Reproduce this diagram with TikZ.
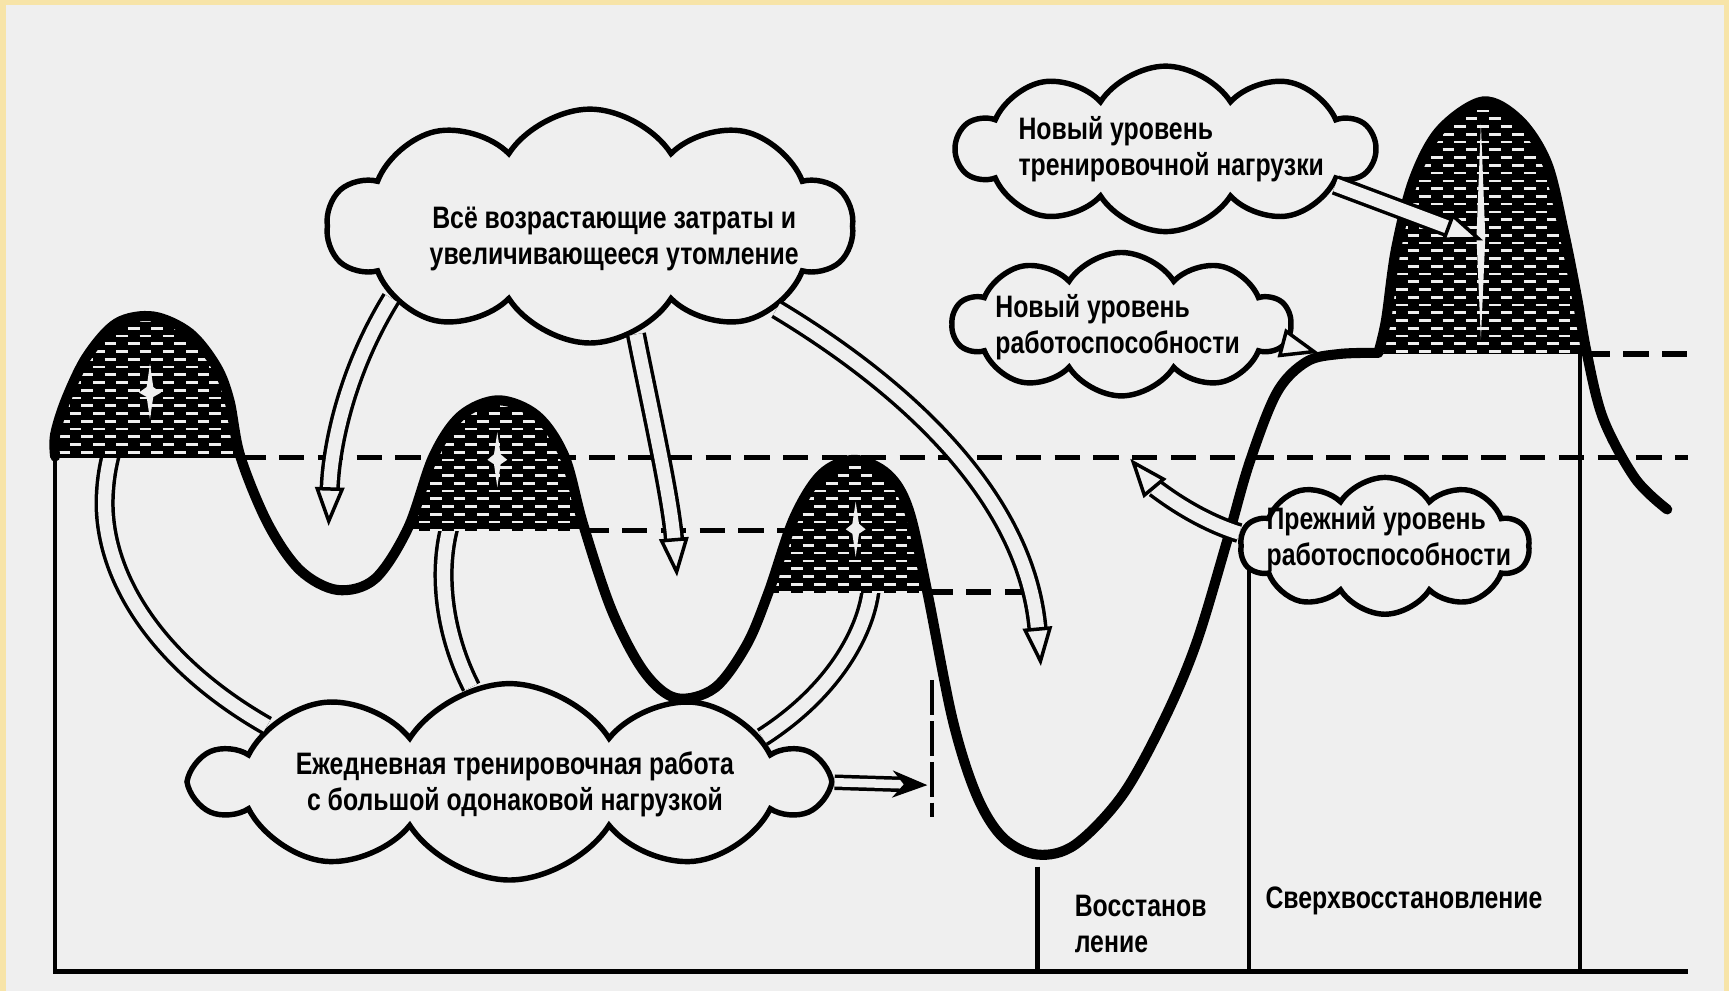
\documentclass[tikz,border=0pt]{standalone}
\usepackage{fontspec}
\newfontfamily\lbl{Liberation Sans}[FakeStretch=0.8]
\usetikzlibrary{shapes.symbols,arrows.meta,patterns}
\definecolor{panel}{HTML}{EFEFEF}
\definecolor{gold}{RGB}{247,228,168}
\pgfdeclarepatternformonly{brick}{\pgfpoint{-1pt}{-1pt}}{\pgfpoint{7pt}{5pt}}{\pgfpoint{6pt}{4pt}}{%
  \pgfsetlinewidth{0.7pt}%
  \pgfpathmoveto{\pgfpoint{0pt}{1pt}}\pgfpathlineto{\pgfpoint{3pt}{1pt}}%
  \pgfpathmoveto{\pgfpoint{3pt}{3pt}}\pgfpathlineto{\pgfpoint{6pt}{3pt}}%
  \pgfusepath{stroke}}
\newcommand\maincurve{plot[smooth, tension=0.55] coordinates {
 (50,414) (50,394) (60,362) (79,323) (106,293) (139,287) (172,302) (196,332) (208,363) (218,414)
 (243,475) (272,517) (306,535) (340,525) (370,479) (393,414) (418,377) (452,363) (487,377) (512,414)
 (529,476) (555,554) (584,609) (613,633) (648,624) (677,585) (697,537) (720,470) (745,430) (775,417)
 (805,430) (824,462) (841,537) (864,653) (886,722) (910,760) (941,775) (975,766) (1018,721) (1056,652)
 (1085,583) (1113,490) (1133,420) (1158,356) (1185,328) (1215,321) (1250,320)}
 -- plot[smooth, tension=0.55] coordinates {(1250,320) (1257,290) (1266,226) (1282,163)
 (1306,118) (1345,92) (1378,109) (1403,148) (1418,209) (1430,269) (1439,320) (1454,380) (1483,434) (1512,462)}}
\begin{document}
\begin{tikzpicture}[x=0.01cm,y=-0.01cm,
  curve/.style={line width=2.6pt, line cap=round, line join=round},
  axis/.style={line width=1.1pt},
  lvl/.style={line width=1.4pt, dash pattern=on 6.5pt off 3.5pt},
  cl/.style={cloud, cloud puffs=10, cloud puff arc=115, cloud ignores aspect, draw=black, line width=1.4pt, fill=panel, inner sep=0pt},
  hol/.style={draw=black, line width=0.9pt, double=panel, double distance=3.4pt, -{Triangle[length=10pt,width=7.5pt,fill=panel]}},
  lab/.style={font=\lbl\bfseries\fontsize{8}{9.25}\selectfont, inner sep=0pt},
  hatch/.style={fill=black, postaction={pattern=brick, pattern color=panel}},
  star/.style={fill=panel}
]
\useasboundingbox (0,0) rectangle (1568,899);
\fill[gold] (0,0) rectangle (1568,899);
\fill[panel] (5.5,4.5) rectangle (1563.5,899);

% axes and verticals
\draw[axis] (50,414) -- (50,881) -- (1531,881);
\draw[axis] (941,786) -- (941,881);
\draw[axis] (1133,515) -- (1133,881);
\draw[axis] (1433,321) -- (1433,881);
% level lines
\draw[lvl] (218,415) -- (1531,415);
\draw[lvl] (529,481) -- (720,481);
\draw[lvl] (841,537) -- (946,537);
\draw[lvl] (1437,321) -- (1531,321);
\draw[line width=1pt, dash pattern=on 9pt off 1.5pt] (845,617) -- (845,741);

% named targets
\coordinate (v1) at (298,477);
\coordinate (v2) at (614,523);
\coordinate (v3) at (944,604);
\coordinate (pk1) at (136,350);
\coordinate (pk2) at (451,405);
\coordinate (pk3) at (776,470);
\coordinate (pk4) at (1345,218);
\coordinate (pl) at (1196,320);
\coordinate (lv) at (1025,416);
\coordinate (dv) at (841,712);

% clouds
\node[cl, minimum width=4.76cm, minimum height=2.12cm] (c1) at (535,205) {};
\node[cl, minimum width=5.70cm, minimum height=1.78cm] (c2) at (462,709) {};
\node[cl, minimum width=3.78cm, minimum height=1.50cm] (c3) at (1057,135) {};
\node[cl, minimum width=3.06cm, minimum height=1.30cm] (c4) at (1017,294) {};
\node[cl, minimum width=2.62cm, minimum height=1.24cm] (c5) at (1256,495) {};

% arrows from the bottom cloud into the peaks (under the shading)
\draw[hol] (c2.167) .. controls (140,600) and (92,520) .. (95,450) .. controls (97,400) and (118,372) .. (pk1);
\draw[hol] (c2.112) .. controls (395,560) and (392,480) .. (pk2);
\draw[hol] (c2.10) .. controls (775,615) and (800,540) .. (pk3);

% shaded peaks
\begin{scope}\clip (45,0) rectangle (226,414.5); \fill[hatch] \maincurve -- (1560,899) -- (0,899) -- cycle; \end{scope}
\begin{scope}\clip (365,0) rectangle (535,481); \fill[hatch] \maincurve -- (1560,899) -- (0,899) -- cycle; \end{scope}
\begin{scope}\clip (690,0) rectangle (850,537); \fill[hatch] \maincurve -- (1560,899) -- (0,899) -- cycle; \end{scope}
\begin{scope}\clip (1245,0) rectangle (1445,320.5); \fill[hatch] \maincurve -- (1560,899) -- (0,899) -- cycle; \end{scope}

% white stars
\fill[star] (136,330) -- (139,351) -- (146,356) -- (139,360) -- (136,380) -- (133,360) -- (126,356) -- (133,351) -- cycle;
\fill[star] (451,392) -- (454,412) -- (460,417) -- (454,421) -- (451,442) -- (448,421) -- (442,417) -- (448,412) -- cycle;
\fill[star] (776,455) -- (779,475) -- (785,480) -- (779,484) -- (776,505) -- (773,484) -- (767,480) -- (773,475) -- cycle;
\fill[star] (1343,112) -- (1347,215) -- (1343,308) -- (1339,215) -- cycle;

% main curve
\draw[curve] \maincurve;

% arrows from the top cloud
\draw[hol] (c1.200) .. controls (312,340) and (300,410) .. (v1);
\draw[hol] (c1.293) .. controls (590,370) and (608,450) .. (v2);
\draw[hol] (c1.336) .. controls (820,350) and (930,450) .. (v3);
% other arrows
\draw[hol] (c3.348) -- (pk4);
\draw[hol, double distance=2.2pt] (c4.353) -- (pl);
\draw[hol] (c5.175) .. controls (1080,470) and (1045,440) .. (lv);
\draw[draw=black, line width=0.9pt, double=panel, double distance=2.2pt, -{Stealth[length=9pt,width=7pt]}] (c2.0) -- (dv);

% texts
\node[lab, align=center] (t1) at (557,217) {Всё возрастающие затраты и\\увеличивающееся утомление};
\node[lab, align=center] (t2) at (467,711) {Ежедневная тренировочная работа\\с большой одонаковой нагрузкой};
\node[lab, align=left, anchor=west] (t3) at (923,135) {Новый уровень\\тренировочной нагрузки};
\node[lab, align=left, anchor=west] (t4) at (902,297) {Новый уровень\\работоспособности};
\node[lab, align=left, anchor=west] (t5) at (1148,489) {Прежний уровень\\работоспособности};
\node[lab, align=left, anchor=west] (t6) at (974,838) {Восстанов\\ление};
\node[lab, anchor=west] (t7) at (1147,817) {Сверхвосстановление};
\end{tikzpicture}
\end{document}
